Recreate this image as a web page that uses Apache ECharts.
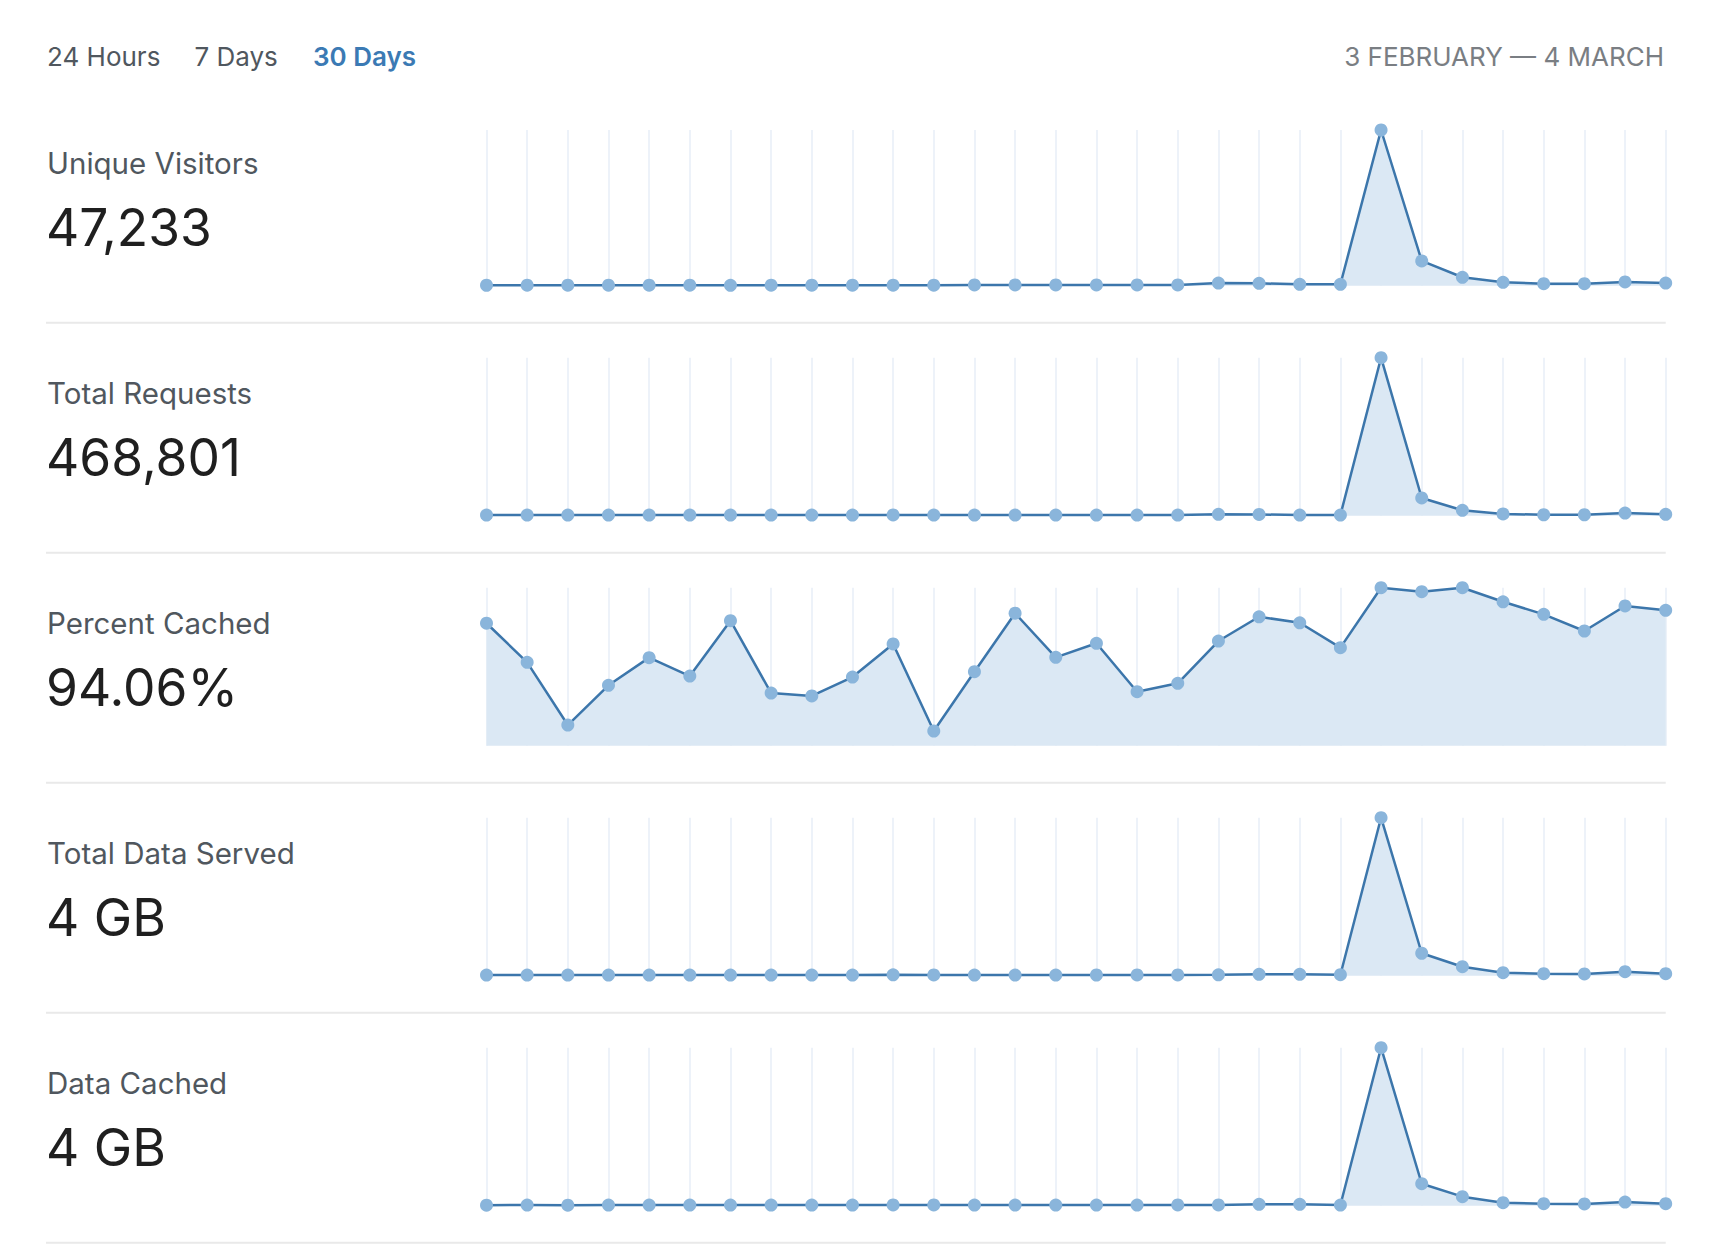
<!DOCTYPE html>
<html>
<head>
<meta charset="utf-8">
<title>Site analytics — last 30 days</title>
<script src="https://cdn.jsdelivr.net/npm/echarts@6/dist/echarts.min.js"></script>
<style>
  html, body { margin: 0; padding: 0; background: #ffffff; }
  #chart { width: 1728px; height: 1250px; }
</style>
</head>
<body>
<div id="chart"></div>
<script>
// ---- Data -------------------------------------------------------------
const days = [
  '3 Feb', '4 Feb', '5 Feb', '6 Feb', '7 Feb', '8 Feb', '9 Feb', '10 Feb', '11 Feb', '12 Feb',
  '13 Feb', '14 Feb', '15 Feb', '16 Feb', '17 Feb', '18 Feb', '19 Feb', '20 Feb', '21 Feb', '22 Feb',
  '23 Feb', '24 Feb', '25 Feb', '26 Feb', '27 Feb', '28 Feb', '1 Mar', '2 Mar', '3 Mar', '4 Mar'
];

const uniqueVisitors = [
  96, 104, 98, 101, 110, 99, 95, 103, 107, 100,
  98, 112, 158, 172, 168, 175, 161, 166, 566, 500,
  300, 300, 33284, 5296, 1799, 733, 433, 433, 800, 566
];

const totalRequests = [
  1380, 1420, 1510, 1460, 1400, 1530, 1440, 1390, 1470, 1500,
  1680, 1450, 1410, 1480, 1520, 1460, 1430, 1550, 3300, 2900,
  1500, 1450, 362401, 40640, 12340, 3990, 2180, 2180, 6170, 3270
];

const percentCached = [
  75.8, 51.6, 12.8, 37.4, 54.5, 43.1, 77.4, 32.6, 30.8, 42.5,
  63.0, 9.1, 45.8, 82.0, 54.7, 63.4, 33.4, 38.6, 64.8, 79.8,
  76.1, 60.7, 97.8, 95.3, 97.8, 89.1, 81.3, 71.0, 86.5, 83.8
];

// megabytes per day
const dataServedMB = [
  10.8, 11.5, 11.2, 12.0, 11.8, 11.4, 12.4, 11.9, 12.6, 12.2,
  15.8, 14.9, 12.1, 11.7, 12.3, 12.8, 13.1, 14.6, 15.2, 26,
  26, 18, 2900, 412, 165, 55, 38, 32, 73, 38
];

const dataCachedMB = [
  10.1, 10.8, 10.4, 11.3, 11.0, 10.7, 11.6, 11.1, 11.9, 11.4,
  14.6, 13.8, 11.2, 10.9, 11.5, 12.0, 12.2, 13.9, 14.4, 26,
  26, 12, 2870, 399, 164, 55, 37, 32, 66, 37
];

const metricTitles = ['Unique Visitors', 'Total Requests', 'Percent Cached', 'Total Data Served', 'Data Cached'];
const metricTotals = ['47,233', '468,801', '94.06%', '4 GB', '4 GB'];
const rangeTabs = ['24 Hours', '7 Days', '30 Days'];
const activeTab = 2;
const rangeLabel = '3 FEBRUARY \u2014 4 MARCH';

const metricSeries = [uniqueVisitors, totalRequests, percentCached, dataServedMB, dataCachedMB];

// ---- Layout & style ---------------------------------------------------
const FONT = 'Inter, Roboto, "Helvetica Neue", Arial, sans-serif';
const SECTION_STEP = 230;
const PLOT_LEFT = 486.5;
const PLOT_RIGHT = 1665.7;
const LINE_COLOR = '#3c76ab';
const DOT_COLOR = '#8ab5db';
const FILL_COLOR = '#dbe8f4';
const GRID_COLOR = '#edf2f9';

// text helper: baseline is the alphabetic baseline of the text
function label(text, x, baseline, size, color, opts) {
  opts = opts || {};
  return {
    type: 'text',
    x: x,
    y: baseline - 0.364 * size,
    silent: true,
    style: {
      text: text,
      fill: color,
      font: (opts.weight || 'normal') + ' ' + size + 'px ' + FONT,
      align: opts.align || 'left',
      verticalAlign: 'middle'
    }
  };
}

const graphics = [];

// range tabs
const tabX = [47, 194.4, 313];
rangeTabs.forEach((t, i) => {
  graphics.push(label(t, tabX[i], 66, 26,
    i === activeTab ? '#3b7ab4' : '#50575e',
    { weight: i === activeTab ? 600 : 'normal' }));
});
graphics.push(label(rangeLabel, 1664, 66, 26, '#7a7e83', { align: 'right' }));

// metric titles, totals and separators
metricTitles.forEach((t, k) => {
  const off = k * SECTION_STEP;
  graphics.push(label(t, 47, 174 + off, 29.5, '#50575e'));
  graphics.push(label(metricTotals[k], 46, 245.5 + off, 51.5, '#1f1f1f'));
  graphics.push({
    type: 'rect',
    silent: true,
    shape: { x: 46, y: 321.7 + off, width: PLOT_RIGHT - 46, height: 2 },
    style: { fill: '#e9e9e9' }
  });
});

const grids = [], xAxes = [], yAxes = [], series = [];
metricSeries.forEach((values, k) => {
  const top = k === 0 ? 130 : 357.7 + (k - 1) * SECTION_STEP;
  const bottom = 285.7 + k * SECTION_STEP;
  grids.push({
    left: PLOT_LEFT,
    top: top,
    width: PLOT_RIGHT - PLOT_LEFT,
    height: bottom - top,
    containLabel: false
  });
  xAxes.push({
    type: 'category',
    gridIndex: k,
    data: days,
    boundaryGap: false,
    axisLine: { show: false },
    axisTick: { show: false },
    axisLabel: { show: false },
    splitLine: { show: true, interval: 0, lineStyle: { color: GRID_COLOR, width: 2 } }
  });
  yAxes.push({
    type: 'value',
    gridIndex: k,
    min: 0,
    max: 'dataMax',
    axisLine: { show: false },
    axisTick: { show: false },
    axisLabel: { show: false },
    splitLine: { show: false }
  });
  series.push({
    type: 'line',
    name: metricTitles[k],
    xAxisIndex: k,
    yAxisIndex: k,
    data: values,
    clip: false,
    symbol: 'circle',
    symbolSize: 13,
    showAllSymbol: true,
    lineStyle: { color: LINE_COLOR, width: 2.5 },
    itemStyle: { color: DOT_COLOR },
    areaStyle: { color: FILL_COLOR, opacity: 1 },
    emphasis: { disabled: true }
  });
});

const chart = echarts.init(document.getElementById('chart'), null, { renderer: 'svg' });
chart.setOption({
  animation: false,
  backgroundColor: '#ffffff',
  grid: grids,
  xAxis: xAxes,
  yAxis: yAxes,
  series: series,
  graphic: { elements: graphics }
});
</script>
</body>
</html>
